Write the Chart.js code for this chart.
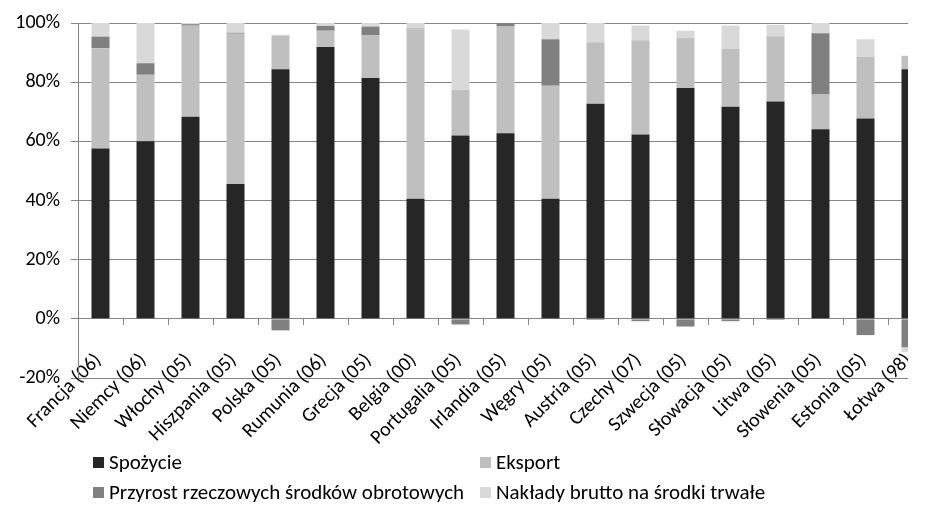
<!DOCTYPE html>
<html>
<head>
<meta charset="utf-8">
<script src="https://cdn.jsdelivr.net/npm/chart.js@4"></script>
<style>
  body { margin: 0; background: #fff; }
  #page { position: relative; width: 934px; height: 518px; overflow: hidden; }
  #crop { position: absolute; left: 0; top: 0; width: 908px; height: 518px; overflow: hidden; }
  #box { width: 934px; height: 518px; }
  #legend { position: absolute; left: 0; top: 0; font-family: Carlito, Lato, sans-serif; font-size: 21px; color: #000; }
  .item { position: absolute; display: flex; align-items: center; white-space: nowrap; height: 24px; }
  .item span.sw { display: inline-block; width: 11px; height: 11px; margin-right: 5px; }
</style>
</head>
<body>
<div id="page">
  <div id="crop"><div id="box"><canvas id="chart"></canvas></div></div>
  <div id="legend"></div>
</div>
<script>
const categories = [
  "Francja (06)", "Niemcy (06)", "Włochy (05)", "Hiszpania (05)", "Polska (05)",
  "Rumunia (06)", "Grecja (05)", "Belgia (00)", "Portugalia (05)", "Irlandia (05)",
  "Węgry (05)", "Austria (05)", "Czechy (07)", "Szwecja (05)", "Słowacja (05)",
  "Litwa (05)", "Słowenia (05)", "Estonia (05)", "Łotwa (98)"
];

const spozycie  = [57.6, 60.0, 68.3, 45.6, 84.4, 91.9, 81.4, 40.6, 62.0, 62.7, 40.6, 72.7, 62.3, 78.0, 71.7, 73.5, 64.1, 67.7, 84.4];
const eksport   = [33.9, 22.5, 30.8, 50.8, 11.3, 5.5, 14.4, 57.3, 15.4, 36.1, 38.2, 20.8, 31.9, 16.9, 19.5, 22.0, 11.7, 20.8, 4.5];
const przyrost  = [3.9, 3.9, 0.5, 0.3, -3.9, 1.6, 3.0, 0.2, -1.9, 1.2, 15.7, -0.4, -0.8, -2.6, -0.8, -0.4, 20.7, -5.5, -9.6];
const naklady   = [4.6, 13.6, 0.4, 3.3, 0.4, 1.0, 1.2, 1.9, 20.4, 0, 5.5, 6.5, 4.9, 2.5, 7.9, 3.9, 3.5, 6.0, -1.6];

const seriesNames = ["Spożycie", "Eksport", "Przyrost rzeczowych środków obrotowych", "Nakłady brutto na środki trwałe"];
const seriesColors = ["#262626", "#bfbfbf", "#808080", "#d9d9d9"];
const yTicks = [-20, 0, 20, 40, 60, 80, 100];

const font = "Carlito, Lato, sans-serif";
const axisGray = "#868686";

const datasets = [spozycie, eksport, przyrost, naklady].map((d, i) => ({
  label: seriesNames[i],
  data: d,
  backgroundColor: seriesColors[i],
  borderWidth: 0,
  categoryPercentage: 1,
  barPercentage: 0.4
}));

const chart = new Chart(document.getElementById("chart"), {
  type: "bar",
  data: { labels: categories, datasets },
  options: {
    responsive: true,
    maintainAspectRatio: false,
    animation: false,
    layout: { padding: { top: 1, right: 1, bottom: 140, left: 0 } },
    plugins: { legend: { display: false }, tooltip: { enabled: false } },
    scales: {
      x: {
        stacked: true,
        position: { y: 0 },
        border: { color: axisGray, width: 1 },
        grid: { drawOnChartArea: false, drawTicks: true, tickLength: 6, color: axisGray, offset: true },
        afterCalculateLabelRotation: s => { s.labelRotation = 45; },
        // plot area runs to the right edge; the picture is cropped at 908px
        afterFit: s => { s.paddingLeft = 0; s.paddingRight = 0; },
        ticks: { autoSkip: false, padding: 24, labelOffset: -2, color: "#000", font: { family: font, size: 20 } }
      },
      y: {
        stacked: true,
        min: -20,
        max: 100,
        afterFit: s => { s.width = 78; },
        afterBuildTicks: s => { s.ticks = yTicks.map(v => ({ value: v })); },
        border: { color: axisGray, width: 1 },
        grid: { color: axisGray, tickLength: 7, lineWidth: 1 },
        ticks: { padding: 11, color: "#000", font: { family: font, size: 20 }, callback: v => v + "%" }
      }
    }
  }
});

// legend in two columns, built from the chart's datasets
const spots = [[93, 462], [480, 462], [93, 492], [480, 492]];
const legend = document.getElementById("legend");
chart.data.datasets.forEach((ds, i) => {
  const el = document.createElement("div");
  el.className = "item";
  el.style.left = spots[i][0] + "px";
  el.style.top = (spots[i][1] - 12) + "px";
  el.innerHTML = '<span class="sw" style="background:' + ds.backgroundColor + '"></span>' + ds.label;
  legend.appendChild(el);
});
</script>
</body>
</html>
